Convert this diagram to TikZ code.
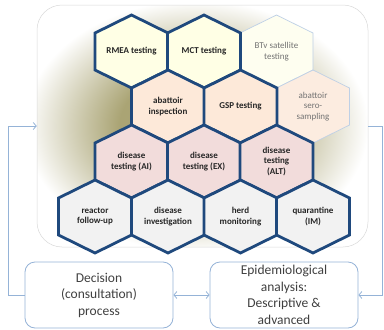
\documentclass[tikz,border=0pt]{standalone}
\usepackage{fontspec}
\setmainfont{Carlito}
\usetikzlibrary{arrows.meta,positioning}
\definecolor{hexblue}{RGB}{31,73,125}
\definecolor{paleline}{RGB}{190,208,230}
\definecolor{boxline}{RGB}{149,179,215}
\definecolor{glowc}{RGB}{170,164,116}
\definecolor{rowA}{RGB}{255,255,229}
\definecolor{rowAp}{RGB}{254,254,240}
\definecolor{rowB}{RGB}{253,233,217}
\definecolor{rowBp}{RGB}{252,236,224}
\definecolor{rowC}{RGB}{242,220,219}
\definecolor{rowD}{RGB}{242,242,242}
\pgfdeclareradialshading{glow}{\pgfpoint{-2bp}{0bp}}{color(0bp)=(glowc); color(11bp)=(glowc); color(26bp)=(white); color(50bp)=(white)}

\begin{document}
\begin{tikzpicture}[
    x=1pt,y=-1pt,
    panel/.style={draw=black!15,line width=.5pt,rounded corners=25pt,shading=glow,minimum width=331pt,minimum height=242pt},
    darkhex/.style={draw=hexblue,line width=2.8pt,line join=miter},
    palehex/.style={draw=paleline,line width=.7pt},
    hextext/.style={align=center,font=\bfseries\fontsize{9}{10.5}\selectfont,text=black!85,inner sep=0pt},
    paletext/.style={align=center,font=\fontsize{9}{10.5}\selectfont,text=black!55,inner sep=0pt},
    decbox/.style={draw=boxline,line width=.8pt,rounded corners=10pt,fill=white,align=center,
      font=\fontsize{13.5}{16.5}\selectfont,text=black!75,minimum width=148pt,minimum height=66pt,inner sep=0pt},
    flow/.style={-{Straight Barb[length=3pt,width=7pt]},line width=.8pt,boxline}
  ]
    \useasboundingbox (0,0) rectangle (384,330);
    \node[panel] (panel) at (202.5,126) {};
    % hexagon cells: pale ones first, dark borders on top
    \foreach \n/\x/\y/\f/\s in {btv/276.5/51.5/rowAp/palehex,sero/313/106.5/rowBp/palehex,
        rmea/131.5/51.5/rowA/darkhex,mct/204/51.5/rowA/darkhex,
        abins/168/106.5/rowB/darkhex,gsp/240.5/106.5/rowB/darkhex,
        dtai/131.5/161.5/rowC/darkhex,dtex/204/161.5/rowC/darkhex,dtalt/276.5/161.5/rowC/darkhex,
        react/95/216.5/rowD/darkhex,dinv/168/216.5/rowD/darkhex,herd/240.5/216.5/rowD/darkhex,quar/313/216.5/rowD/darkhex}
      {\draw[\s,fill=\f] (\x,\y) ++(0,-36.5) -- ++(36.5,18) -- ++(0,37) -- ++(-36.5,18) -- ++(-36.5,-18) -- ++(0,-37) -- cycle;
       \coordinate (\n) at (\x,\y);}
    \node[hextext] (rmea-t) at (rmea) {RMEA testing};
    \node[hextext] (mct-t) at (mct) {MCT testing};
    \node[paletext] (btv-t) at (btv) {BTv satellite\\testing};
    \node[hextext] (abins-t) at (abins) {abattoir\\inspection};
    \node[hextext] (gsp-t) at (gsp) {GSP testing};
    \node[paletext] (sero-t) at (sero) {abattoir\\sero-\\sampling};
    \node[hextext] (dtai-t) at (dtai) {disease\\testing (AI)};
    \node[hextext] (dtex-t) at (dtex) {disease\\testing (EX)};
    \node[hextext] (dtalt-t) at (dtalt) {disease\\testing\\(ALT)};
    \node[hextext] (react-t) at (react) {reactor\\follow-up};
    \node[hextext] (dinv-t) at (dinv) {disease\\investigation};
    \node[hextext] (herd-t) at (herd) {herd\\monitoring};
    \node[hextext] (quar-t) at (quar) {quarantine\\(IM)};
    % bottom boxes and loop
    \node[decbox] (decision) at (99,295) {Decision\\(consultation)\\process};
    \node[decbox] (epi) at (284,295) {Epidemiological\\analysis:\\Descriptive \&\\advanced};
    \draw[flow,{Straight Barb[length=3pt,width=7pt]}-{Straight Barb[length=3pt,width=7pt]}] (decision.east) -- (epi.west);
    \coordinate (lturn) at (8,126);
    \coordinate (rturn) at (382,126);
    \draw[flow] (decision.west) -| (lturn) -- (lturn -| panel.west);
    \draw[flow] (rturn -| panel.east) -- (rturn) |- (epi.east);
\end{tikzpicture}
\end{document}
